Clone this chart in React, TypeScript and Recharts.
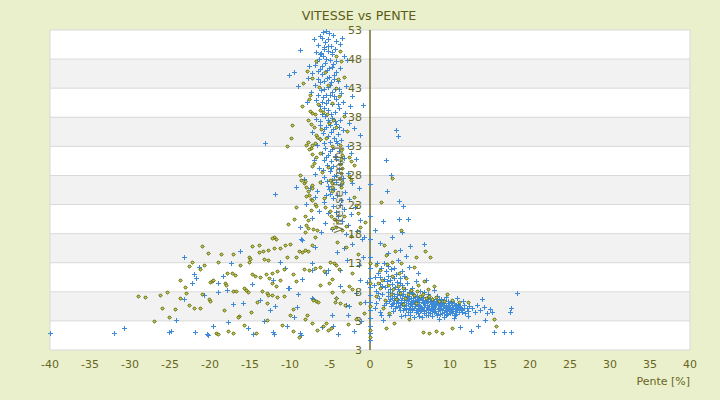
import React from 'react';
import { ScatterChart, Scatter, XAxis, YAxis, CartesianGrid, ReferenceLine } from 'recharts';

const xTicks = [-40, -35, -30, -25, -20, -15, -10, -5, 0, 5, 10, 15, 20, 25, 30, 35, 40];
const yTicks = [-2, 3, 8, 13, 18, 23, 28, 33, 38, 43, 48, 53];
const yTickLabels = ['3', '3', '8', '13', '18', '23', '28', '33', '38', '43', '48', '53'];

const blueTop: [number, number][] = [
  [-5.5,52.9],[-5.9,52.6],[-5.1,52.4],[-4.6,52.1],[-6.3,51.9],[-6,51.6],[-5.2,51.5],[-4.2,51.1],[-7,51.5],[-3.7,50.6],[-5.6,50.9],[-6.5,50.4],[-4.9,50.2],[-5.8,50.0],[-4.4,49.8],[-3.5,51.7],
  [-8.75,49.6],[-6.8,49.3],[-6.1,49.1],[-5.3,49.4],[-4.7,48.8],[-5.9,48.5],[-6.4,48.0],[-5.0,47.9],[-4.3,47.7],[-2.9,47.9],[-5.6,47.3],[-6.9,47.0],[-7.6,46.8],[-4.8,46.6],[-6.2,46.3],[-5.4,46.1],[-3.8,46.4],[-7.2,45.6],[-6.0,45.4],[-4.5,45.2],[-5.1,45.0],[-10.1,45.3],[-9.5,45.8],[-3.3,48.6],[-5.8,49.8],[-6.6,47.6],
  [-9,43.4],[-7.8,44.7],[-6.5,44.5],[-5.7,44.2],[-4.9,44.0],[-4.0,44.3],[-3.0,43.4],[-6.9,43.6],[-5.3,43.2],[-4.4,42.9],[-6.1,42.7],[-7.4,42.4],[-3.6,42.1],[-5.0,41.8],[-5.9,41.5],[-4.2,41.2],[-6.7,41.0],[-2.3,41.6],[-3.4,40.7],[-5.5,40.4],[-4.7,40.2],[-6.3,39.9],[-2.5,40],[-0.9,40.1],[-7.9,40.6],[-3.9,39.6],
  [-5.2,39.3],[-4.4,38.9],[-6.0,38.6],[-3.1,38.8],[-5.6,38.2],[-4.8,37.9],[-6.8,37.7],[-3.7,37.5],[-5.1,37.2],[-4.2,36.9],[-2.6,37.0],[-6.3,36.6],[-5.5,36.3],[-4.6,36.0],[-3.4,35.8],[-7.2,35.5],[-5.9,35.3],[-4.0,35.1],[-2.0,36.2],[-1.3,35.0],
  [-5.3,34.8],[-4.5,34.5],[-6.2,34.3],[-3.6,34.1],[-5.0,33.8],[-4.1,33.5],[-13.1,33.6],[-6.6,33.2],[-2.8,33.0],[-5.6,32.8],[-4.7,32.5],[-3.9,32.2],[-6.0,31.9],[-5.2,31.6],[-2.4,31.8],[-4.4,31.3],[-3.2,31.0],[-5.8,30.7],[-4.9,30.4],[-7.0,30.6],[-3.7,30.2],[-1.8,30.9],
  [-5.4,29.8],[-4.6,29.6],[-6.4,29.3],[-3.9,29.1],[-5.0,28.8],[-2.7,28.5],[-6.9,28.3],[-4.3,28.1],[-5.7,27.8],[-3.4,27.6],[-8.3,27.4],[-4.8,27.2],[-6.1,26.9],[-2.2,26.7],[-3.8,26.4],[-5.3,26.2],[-7.5,25.9],[-4.5,25.6],[-1.4,25.8],[-6.6,25.3],[-3.1,25.1],[-11.9,24.8],[-9.2,26.0],
  [-5.0,24.8],[-4.1,24.6],[-6.9,24.3],[-2.6,24.0],[-3.6,23.7],[-5.8,23.4],[-8.0,23.1],[-4.6,22.8],[-1.9,22.5],[-3.2,22.2],[-6.4,21.9],[-5.2,21.6],[-2.4,21.3],[-4.0,21.0],[-7.3,20.7],[-1.3,20.4],[-3.5,20.1],[-5.6,19.8],[-2.8,19.5],[-8.8,19.1],[-4.7,18.8],[-1.6,18.5],[-6.1,18.2],[-3.0,17.9],[-0.8,17.4],
  [-5.3,50.3],[-4.8,49.2],[-6.2,48.8],[-5.5,48.0],[-4.6,47.2],[-6.0,46.8],[-5.1,46.4],[-4.2,45.8],[-6.5,45.9],[-5.4,44.7],[-4.5,44.6],[-6.2,44.0],[-5.0,43.5],[-5.8,42.9],[-4.8,42.4],[-3.9,42.8],[-5.5,41.9],[-6.5,41.8],[-4.5,41.6],[-5.2,40.9],[-6.0,40.6],[-4.0,40.3],[-5.8,39.6],[-4.9,38.6],[-5.3,37.6],[-6.2,37.3],[-4.4,37.4],[-5.0,36.6],[-3.9,36.3],[-5.8,36.0],[-4.9,35.5],[-4.3,34.0],[-5.7,33.5],[-5.0,32.2],[-4.2,30.9],[-5.5,31.1],[-4.9,29.3],[-5.9,28.9],[-4.5,27.9],[-5.4,27.0],[-4.2,26.9],[-5.1,25.6],[-4.6,24.1],[-5.5,24.6],[-3.8,22.9],[-4.3,21.8],
];

const blueLeft: [number, number][] = [
  [-40,0.9],[-32,0.9],[-30.8,1.8],[-25.1,1.1],[-24.9,1.2],[-21.9,1.1],[-20.4,0.8],[-20.3,0.5],[-19.6,2.1],[-17.75,2.8],[-17.1,5.9],[-23.25,6.7],[-23.25,14.0],[-16.25,15.0],[-17.4,13.0],[-21.4,12.3],[-22.0,11.0],[-21.75,10.4],[-22.25,9.5],[-18.4,10.7],[-19.0,9.5],[-19.0,8.0],[-17.9,8.3],[-15.25,1.8],[-14.6,0.75],[-14.75,9.3],[-13.75,6.6],[-12.5,4.9],[-11.9,5.6],[-10.25,8.7],[-11.25,13.1],[-12.1,10.0],[-8.6,17.1],[-9.0,7.6],[-9.1,5.4],[-9.5,3.7],[-10.4,2.1],[-8.75,0.9],[-8.6,0.6],[-6.0,2.0],[-7.1,6.8],[-7.25,11.75],[-6.9,15.7],[-5.5,11.2],[-12.1,1.1],[-12.0,0.7],[-4.6,2.1],[-4.75,4.0],[-2.75,4.0],[-1.25,10.0],[-0.4,9.7],[-3.0,5.7],[-2.6,5.5],[-3.75,9.0],[-4.25,7.0],[-7.25,7.0],[-8.5,10.2],[-10.1,8.7],[-10.6,12.1],[-7.25,13.0],[-5.25,11.75],[-3.75,11.75],[-1.4,12.6],[-2.9,13.5],[-8.5,16.9],[-4.1,14.8],[-0.9,14.0],[-2.2,16.3],[-1.0,17.0],[-3.3,15.5],[-0.6,6.3],[-1.8,7.8],[-1.1,3.0],[-2.0,1.2],[-4.0,0.7],[-13.2,2.9],[-15.9,6.0],[-20.7,7.4],[-24.2,3.1],
];

const blueRight: [number, number][] = [
  [0.6,10.5],[0.8,8.2],[1.0,11.3],[1.1,6.9],[1.3,9.4],[1.4,12.1],[1.5,7.6],[1.7,10.2],[1.8,5.8],[1.9,8.8],[0.7,6.1],[1.2,4.6],[2.0,11.6],[0.9,13.0],[1.6,3.2],
  [2.1,9.9],[2.2,7.2],[2.3,10.8],[2.4,6.4],[2.5,8.5],[2.6,5.6],[2.7,9.3],[2.8,7.8],[2.9,6.1],[3.0,10.4],[2.2,12.4],[2.6,11.9],[2.9,4.7],[2.4,4.1],
  [3.1,8.9],[3.2,7.0],[3.3,5.5],[3.4,9.7],[3.5,6.3],[3.6,8.1],[3.7,4.9],[3.8,7.4],[3.9,6.0],[4.0,9.1],[3.3,11.0],[3.7,10.3],[3.5,13.4],[3.9,3.9],
  [4.1,7.7],[4.2,5.2],[4.3,6.6],[4.4,8.4],[4.5,5.8],[4.6,7.1],[4.7,4.6],[4.8,6.4],[4.9,8.0],[5.0,5.5],[4.2,10.7],[4.6,9.6],[4.9,12.2],[4.4,4.0],
  [5.1,6.9],[5.2,4.9],[5.3,6.1],[5.4,7.6],[5.5,5.3],[5.6,6.6],[5.7,4.5],[5.8,5.9],[5.9,7.2],[6.0,5.0],[5.3,8.7],[5.7,9.8],[5.5,3.6],[6.0,11.3],
  [6.1,6.3],[6.2,4.7],[6.3,5.6],[6.4,7.0],[6.5,5.1],[6.6,6.0],[6.7,4.4],[6.8,5.4],[6.9,6.6],[7.0,4.9],[6.3,8.2],[6.8,7.9],[6.5,3.7],[7.0,10.0],
  [7.1,5.8],[7.2,4.6],[7.3,6.4],[7.4,5.2],[7.5,4.3],[7.6,5.9],[7.7,6.8],[7.8,4.8],[7.9,5.5],[8.0,6.2],[7.3,7.6],[7.7,3.9],[8.0,8.3],
  [8.1,5.0],[8.2,4.4],[8.3,5.7],[8.4,6.5],[8.5,4.7],[8.6,5.3],[8.7,6.0],[8.8,4.2],[8.9,5.6],[9.0,4.9],[8.4,7.3],[8.9,6.8],[8.6,3.4],
  [9.1,5.3],[9.2,4.5],[9.3,6.1],[9.4,4.9],[9.5,5.6],[9.6,4.2],[9.7,5.1],[9.8,6.4],[9.9,4.7],[10.0,5.4],[9.5,7.1],[9.3,3.6],
  [10.1,4.9],[10.2,5.8],[10.3,4.4],[10.4,5.3],[10.5,6.1],[10.6,4.7],[10.7,5.5],[10.8,4.2],[10.9,5.0],[11.0,5.9],[10.5,3.5],[10.9,6.9],
  [11.1,4.6],[11.3,5.4],[11.5,4.9],[11.7,5.8],[11.9,4.4],[12.1,5.2],[12.3,4.7],[11.6,6.5],[12.4,5.6],[12.2,3.8],
  [12.8,5.2],[13.1,4.6],[13.4,5.7],[13.8,4.9],[14.2,5.4],[14.6,4.3],[15.0,5.0],[15.3,4.6],[14.0,6.7],[15.5,1.1],[16.8,1.1],[17.6,1.1],[17.5,4.5],[17.6,5.2],[18.4,7.8],[14.4,3.2],[13.5,2.2],[12.6,1.3],[11.2,1.9],
  [3.2,6.0],[3.6,5.4],[4.0,6.9],[4.3,5.6],[4.7,6.1],[5.1,5.9],[5.4,6.5],[5.8,6.3],[6.2,5.5],[6.5,6.6],[6.9,5.7],[7.2,5.1],[7.6,6.3],[8.0,5.4],[8.3,6.1],[8.7,5.1],[9.1,6.0],[9.4,5.4],[9.8,5.8],[10.2,5.1],[10.6,5.6],[11.0,5.3],[3.4,7.6],[4.6,6.9],[5.6,7.1],[6.7,6.3],[7.8,6.0],[8.8,5.9],[9.6,5.0],[10.4,4.7],[4.1,4.8],[5.0,4.6],[6.0,4.3],[7.0,4.1],[8.0,4.5],[9.0,4.4],[10.0,4.3],[11.4,5.1],[3.0,7.3],[2.5,6.8],[5.3,5.1],[6.4,4.9],[7.4,5.6],[8.5,5.8],[9.7,5.6],[6.3,6.9],[5.2,7.8],[4.4,7.3],[7.1,6.9],[8.2,6.8],
  [2.8,5.9],[3.1,5.2],[3.4,6.7],[3.8,5.7],[4.2,6.3],[4.5,5.0],[4.9,5.2],[5.2,6.3],[5.6,5.5],[5.9,4.8],[6.1,5.8],[6.4,5.3],[6.8,4.7],[7.1,6.2],[7.3,4.8],[7.6,5.1],[7.9,6.5],[8.2,5.9],[8.5,5.1],[8.8,6.3],[9.2,5.7],[9.5,4.7],[9.9,5.2],[10.3,6.0],[10.7,5.1],[11.1,5.6],[11.5,4.5],[11.8,5.3],[3.5,8.5],[4.1,8.1],[4.8,7.2],[5.4,7.0],[6.0,6.7],[6.6,7.1],[7.5,6.7],[8.6,6.7],[9.3,6.6],[10.1,6.3],[3.0,6.6],[3.9,6.6],[4.9,6.7],[5.9,6.6],[6.9,6.1],[7.9,5.0],[8.9,5.3],[9.9,6.0],[10.8,5.8],[5.0,4.1],[6.1,3.9],[7.3,4.0],[8.4,4.1],[9.5,4.1],[10.6,4.1],[2.7,7.0],[2.3,8.0],[2.0,6.1],[1.5,9.0],[1.0,7.8],[0.5,9.1],[1.8,12.9],[3.0,12.1],[4.0,11.6],[1.2,10.5],[2.5,10.0],[3.8,9.6],[0.6,5.3],[1.4,4.0],
  [2.0,30.7],[2.6,28.0],[2.1,25.3],[3.6,23.6],[4.1,22.7],[3.6,20.6],[4.8,20.6],[3.3,35.8],[3.5,34.8],[1.6,20.1],[0.6,18.6],[2.8,17.5],[4.0,18.3],[1.2,16.4],[5.0,15.9],[3.7,15.2],[6.8,16.3],[2.3,14.7],[4.5,14.2],
  [0,10.4],[0,8.8],[0,7.5],[0,6.2],[0,4.8],[0,3.5],[0,2.1],[0,0.9],[0,-0.3],[0,12.1],[0,14.0],[0,17.1],[0,21.0],[0,26.6],
];

const oliveTop: [number, number][] = [
  [-3.75,49.4],[-4.2,48.5],[-3.6,47.6],[-7.9,45.9],[-7.3,44.8],[-8.4,43.9],[-4.2,43.0],[-7.5,41.9],[-7.6,41.2],[-6.5,40.3],[-8.5,40.0],[-6.25,39.3],[-5.9,38.9],[-5.4,38.5],[-7.5,39.1],[-7.2,38.8],[-6.9,38.5],[-7.8,37.5],[-7.4,36.9],[-7.0,36.3],[-5.1,37.0],[-4.6,37.5],[-4.3,36.4],[-6.8,35.0],[-6.6,34.6],[-6.3,34.2],[-6.9,33.6],[-7.2,33.2],[-7.4,32.8],[-7.6,32.5],[-9.8,36.7],[-9.9,34.4],[-10.4,33.0],[-8.0,33.3],[-7.8,33.8],[-7.3,31.7],[-6.7,31.2],[-6.3,31.8],
  [-3.75,33.3],[-3.6,32.4],[-3.5,31.6],[-3.6,30.8],[-3.75,30.0],[-3.5,29.2],[-3.6,28.4],[-3.75,27.6],[-3.5,26.8],[-3.6,26.0],[-8.8,28.0],[-8.6,27.3],[-8.3,26.7],[-8.0,26.0],[-7.8,25.3],[-7.6,24.7],[-7.4,24.0],[-7.3,29.6],[-7.0,30.2],[-2.6,31.1],[-2.4,30.5],[-2.0,29.8],[-2.6,27.9],[-2.4,27.2],[-5.0,27.3],[-4.8,26.7],[-4.7,26.0],[-4.8,25.3],[-8.1,27.1],[-7.3,26.4],[-7.2,25.9],[-6.9,23.1],[-6.7,22.8],[-7.3,23.7],[-8.0,24.4],[-8.1,21.0],[-7.7,20.3],[-8.0,19.5],[-7.8,18.9],[-8.1,18.3],[-7.4,22.1],[-5.6,22.5],[-5.0,21.9],[-4.9,21.1],[-4.5,20.6],[-4.1,20.1],[-4.3,19.2],[-4.8,18.9],[-3.5,18.6],[-3.2,21.0],[-3.0,19.3],[-12.0,17.5],[-12.3,17.2],[-11.7,17.0],
  [-4.0,44.5],[-3.2,45.0],[-6.1,36.0],[-5.5,34.4],[-4.7,33.0],[-5.3,29.5],[-6.0,28.6],[-5.8,24.1],[-6.3,26.9],[-9.2,22.5],[-9.5,20.5],[-10.2,19.7],[-2.0,24.3],[-1.8,23.0],[-1.5,21.5],[-0.6,20.0],[-1.2,19.2],[-4.7,40.4],[-3.9,41.7],[-5.2,43.6],[-6.4,43.2],[-5.6,45.7],[-6.8,47.7],[-3.3,38.3],[-2.9,35.6],
];

const oliveLeft: [number, number][] = [
  [-28.1,7.1],[-26.25,7.5],[-25.1,3.6],[-23.7,7.0],[-23.1,8.8],[-23.0,7.8],[-22.6,5.7],[-22.0,5.3],[-21.3,5.2],[-22.6,12.4],[-20.7,12.6],[-21.25,11.9],[-20.2,14.6],[-18.6,14.5],[-17.1,14.5],[-20.0,9.7],[-19.8,9.9],[-19.6,10.1],[-20.1,6.7],[-20.0,6.5],[-21.0,7.7],[-17.9,11.3],[-17.2,11.2],[-16.9,10.9],[-18.1,9.5],[-18.0,9.2],[-17.1,8.1],[-16.75,8.2],[-16.4,3.9],[-16.5,3.7],[-17.7,1.3],[-17.1,0.9],[-19.3,0.9],[-19.0,0.8],[-15.8,2.3],[-14.9,4.6],[-15.7,8.6],[-15.5,8.3],[-15.3,8.0],[-15.1,14.0],[-15.0,13.6],[-15.1,13.2],[-14.7,15.8],[-13.9,16.0],
  [-14.8,11.0],[-14.4,10.8],[-13.7,10.5],[-13.0,11.0],[-12.2,11.3],[-11.6,11.6],[-10.8,12.0],[-13.5,8.2],[-12.9,7.8],[-12.3,7.5],[-11.6,7.1],[-10.75,7.3],[-13.9,14.8],[-13.4,15.0],[-12.8,15.2],[-12.0,15.5],[-11.2,15.5],[-10.6,16.0],[-10.0,16.3],[-8.9,15.0],[-8.5,14.9],[-8.1,15.2],[-7.7,15.0],[-7.2,16.0],[-6.9,17.5],[-6.6,18.6],[-7.1,18.8],[-8.2,12.0],[-7.6,11.8],[-6.9,12.1],[-6.2,12.3],[-5.7,11.6],[-5.0,13.2],[-4.5,13.0],[-4.2,12.6],[-3.9,11.9],
  [-9.6,5.0],[-8.1,3.4],[-7.9,4.1],[-7.3,2.6],[-6.6,1.5],[-5.9,2.1],[-5.5,2.6],[-5.3,1.4],[-4.9,1.8],[-7.1,6.6],[-6.8,6.5],[-6.5,6.2],[-4.7,8.0],[-4.3,6.9],[-4.4,6.3],[-3.8,6.0],[-3.1,5.8],[-3.4,8.2],[-2.6,9.0],[-26.0,5.3],[-24.4,5.1],[-27.0,3.0],[-23.8,10.1],[-22.3,13.2],[-21.0,15.9],[-19.0,13.2],[-18.3,4.8],[-16.2,12.6],[-14.1,6.3],[-12.9,3.2],[-11.0,2.3],[-10.0,4.1],[-9.2,9.9],[-9.6,11.1],[-10.4,14.0],[-11.3,10.0],[-12.2,9.6],[-12.6,10.3],[-11.8,9.0],[-13.3,13.7],[-12.7,13.5],[-9.3,14.0],[-6.2,9.2],[-5.1,9.6],[-4.8,10.2],[-2.2,8.4],[-2.7,2.4],[-1.7,3.4],[-1.3,6.1],[-0.8,4.4],[-2.3,11.3],[-1.5,14.5],[-3.0,15.7],[-4.1,16.6],[-2.4,17.6],[-29.0,7.3],[-25.4,8.0],[-14.2,1.0],[-9.6,1.2],[-8.9,0.3],[-12.9,6.0],[-12.8,7.4],
];

const oliveRight: [number, number][] = [
  [0.8,7.3],[1.2,8.6],[1.5,10.1],[1.9,6.6],[2.3,9.2],[2.6,7.6],[2.9,8.4],[3.2,6.8],[3.5,9.0],[3.8,7.8],[4.1,8.7],[4.4,6.9],[4.8,7.7],[5.1,8.3],[5.5,7.4],[5.9,8.1],[6.2,7.2],[6.6,7.6],[7.0,6.9],[7.4,7.3],[7.8,6.7],[8.2,7.1],[8.6,6.4],[0.7,12.6],[1.3,11.8],[2.1,12.8],[2.8,13.1],[1.6,5.3],[2.4,4.4],[3.0,2.7],[3.6,11.3],[4.5,10.4],[5.5,12.2],[6.8,9.9],[8.0,9.0],[9.6,7.7],[10.2,6.6],[11.1,6.2],[12.2,6.2],[2.0,1.8],[4.9,3.3],[6.6,1.1],[7.4,1.0],[8.2,1.3],[9.0,1.0],[10.3,1.7],[15.7,2.1],[15.5,3.4],[3.1,15.0],[2.0,14.3],[6.0,9.2],[7.3,8.5],[4.1,5.9],[5.7,6.1],[9.2,6.4],[1.0,9.6],[2.7,10.8],[3.9,12.9],
  [2.7,27.6],[1.4,23.5],[3.9,18.6],[5.7,14.0],[6.9,15.1],[7.5,14.0],[1.8,16.0],
  [0,9.6],[0,5.5],[0,1.5],[0,0.2],[0,13.0],
];

const toPts = (arr: [number, number][]) => arr.map(([x, y]) => ({ x, y }));
const blueData = toPts([...blueTop, ...blueLeft, ...blueRight]);
const oliveData = toPts([...oliveTop, ...oliveLeft, ...oliveRight]);

const TEXT = '#66661f';
const FONT = '"DejaVu Sans", Verdana, sans-serif';

const BluePlus = (p: any) => {
  const x = Math.round(p.cx) + 0.5;
  const y = Math.round(p.cy) + 0.5;
  return <path d={`M${x - 2.5},${y}h5M${x},${y - 2.5}v5`} stroke="#3d8ad8" strokeWidth={1} fill="none" />;
};

const OliveDiamond = (p: any) => {
  const x = Math.round(p.cx) + 0.5;
  const y = Math.round(p.cy) + 0.5;
  return <path d={`M${x},${y - 1.7}L${x + 1.7},${y}L${x},${y + 1.7}L${x - 1.7},${y}Z`} fill="#caca5a" stroke="#556200" strokeWidth={1} />;
};

const YTick = (p: any) => {
  const idx = yTicks.indexOf(p.payload.value);
  return (
    <text x={362} y={p.y} dy="0.36em" textAnchor="end" fill={TEXT} fontSize={11} fontFamily={FONT}>
      {yTickLabels[idx]}
    </text>
  );
};

export default function App() {
  return (
    <div style={{ position: 'fixed', left: 0, top: 0, width: 720, height: 400, background: '#ebf0cc' }}>
      <div style={{ position: 'absolute', left: 0, top: 7.5, width: 718, textAlign: 'center', fontFamily: FONT, fontSize: 12.6, lineHeight: '15px', color: '#5c5c18' }}>
        VITESSE vs PENTE
      </div>
      <ScatterChart width={720} height={400} margin={{ top: 30, right: 30, bottom: 15, left: 49 }}>
        <CartesianGrid vertical={false} stroke="#d9d9d9" horizontalFill={['#ffffff', '#f2f2f2']} fillOpacity={1} />
        <CartesianGrid horizontal={false} verticalPoints={[50, 690]} stroke="#d9d9d9" />
        <XAxis
          type="number"
          dataKey="x"
          domain={[-40, 40]}
          ticks={xTicks}
          interval={0}
          axisLine={false}
          tickLine={false}
          tickMargin={4}
          height={35}
          tick={{ fill: TEXT, fontSize: 11, fontFamily: FONT }}
          label={{ value: 'Pente [%]', position: 'insideBottomRight', offset: 0, fill: TEXT, fontSize: 11, fontFamily: FONT }}
        />
        <YAxis
          type="number"
          dataKey="y"
          domain={[-2, 53]}
          ticks={yTicks}
          interval={0}
          width={1}
          axisLine={false}
          tickLine={false}
          tick={<YTick />}
        />
        <ReferenceLine x={0} stroke="#5a5a0c" strokeWidth={1.3} />
        <Scatter data={blueData} fill="#3d8ad8" shape={BluePlus} isAnimationActive={false} />
        <Scatter data={oliveData} fill="#c3c34a" shape={OliveDiamond} isAnimationActive={false} />
      </ScatterChart>
      <div style={{ position: 'absolute', zIndex: 10, left: 339, top: 190, transform: 'translate(-50%, -50%) rotate(-90deg)', whiteSpace: 'nowrap', fontFamily: FONT, fontSize: 12, lineHeight: '14px', color: '#6a6a40', opacity: 0.9, pointerEvents: 'none' }}>
        Vitesse [km/h]
      </div>
    </div>
  );
}
